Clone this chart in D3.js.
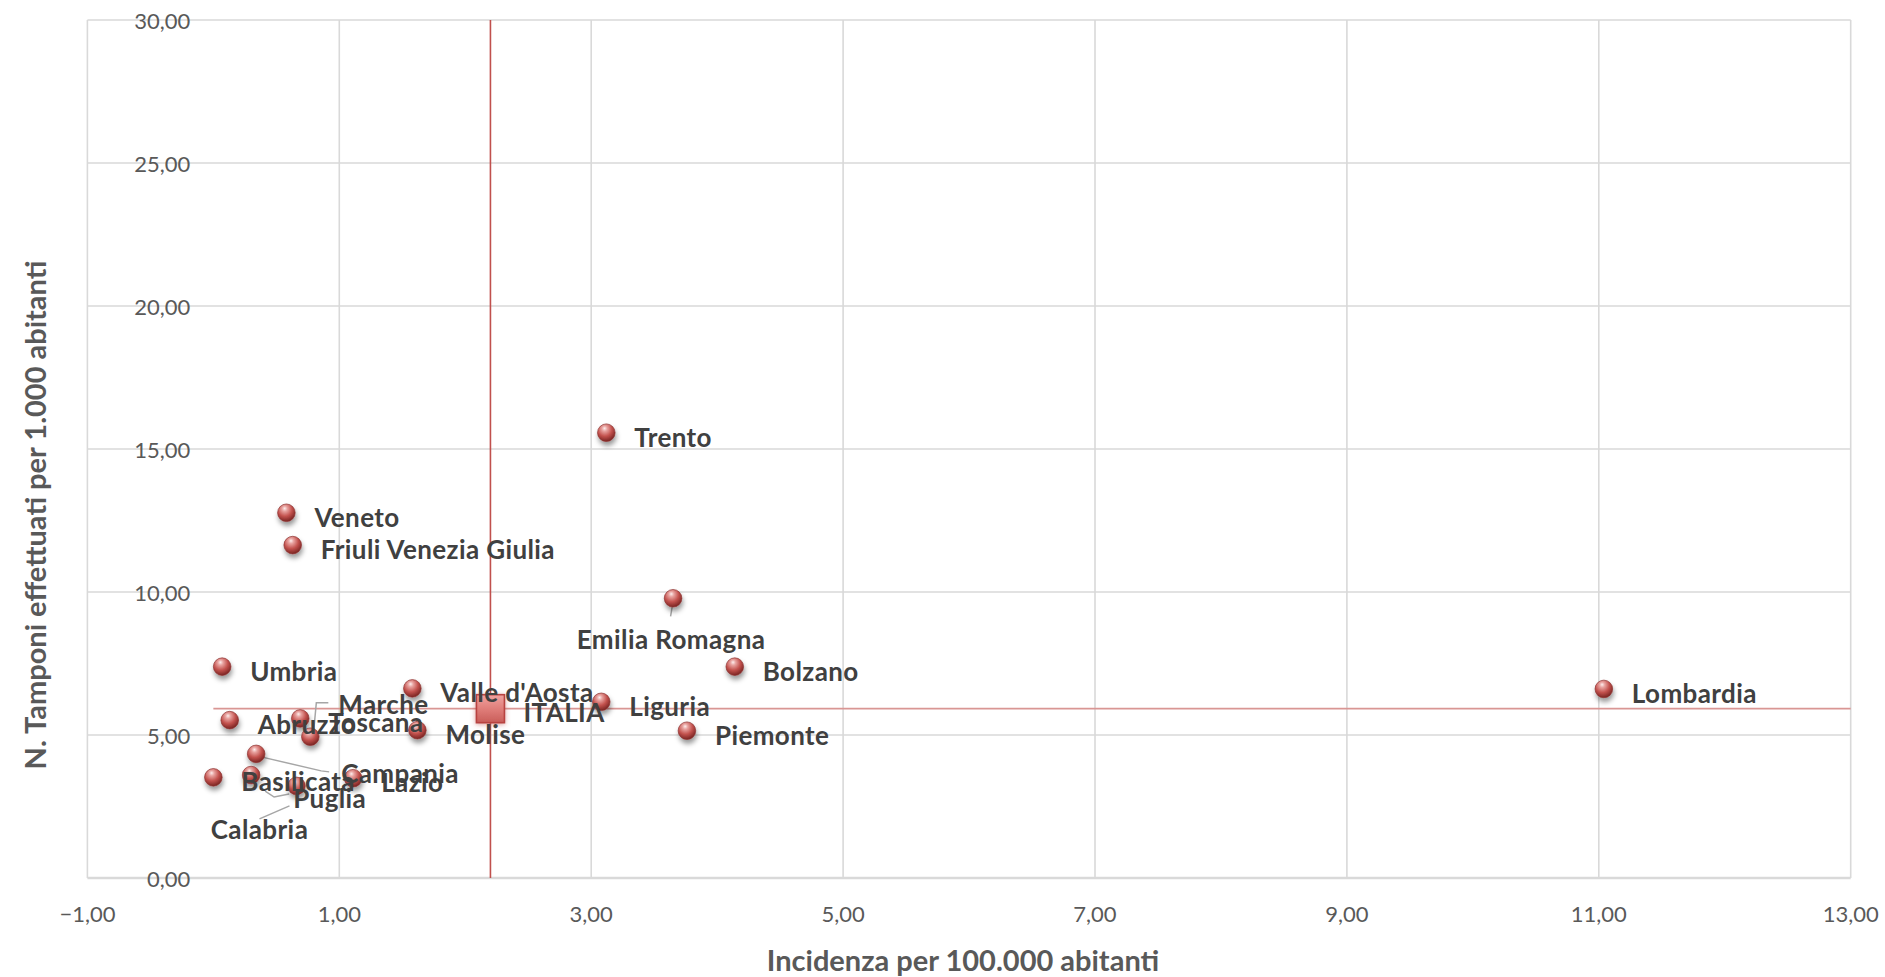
<!DOCTYPE html>
<html>
<head>
<meta charset="utf-8">
<script src="https://cdn.jsdelivr.net/npm/d3@7"></script>
<style>
  html, body { margin: 0; padding: 0; background: #ffffff; }
  svg { display: block; }
</style>
</head>
<body>
<svg id="chart" width="1885" height="977"></svg>
<script>
// Regioni: incidenza per 100.000 abitanti (x) e tamponi per 1.000 abitanti (y)
const regions = ["Trento", "Veneto", "Friuli Venezia Giulia", "Emilia Romagna", "Bolzano",
  "Umbria", "Lombardia", "Valle d'Aosta", "Liguria", "Piemonte", "Molise", "Abruzzo",
  "Toscana", "Marche", "Campania", "Basilicata", "Puglia", "Calabria", "Lazio"];
const incidenza = [3.12, 0.58, 0.63, 3.65, 4.14,
  0.07, 11.04, 1.58, 3.08, 3.76, 1.62, 0.13,
  0.69, 0.77, 0.34, 0.00, 0.30, 0.66, 1.11];
const tamponi = [15.57, 12.77, 11.64, 9.78, 7.39,
  7.39, 6.61, 6.63, 6.16, 5.15, 5.17, 5.52,
  5.58, 4.94, 4.34, 3.52, 3.60, 3.22, 3.49];

// Media nazionale
const italiaLabel = "ITALIA";
const italiaIncidenza = 2.2;
const italiaTamponi = 5.92;

// Assi
const xTicks = [-1, 1, 3, 5, 7, 9, 11, 13];
const yTicks = [0, 5, 10, 15, 20, 25, 30];
const xTitle = "Incidenza per 100.000 abitanti";
const yTitle = "N. Tamponi effettuati per 1.000 abitanti";

// Etichette spostate manualmente (offset in px rispetto al punto) e linee guida
const labelDefault = { dx: 28, dy: 4, anchor: "start" };
const labelMoved = {
  "Emilia Romagna": { dx: -2, dy: 41, anchor: "middle", leader: [[0, 3], [-2.5, 18]] },
  "Marche": { dx: 28, dy: -33, anchor: "start", leader: [[3, -2], [6, -34], [18, -34]] },
  "Campania": { dx: 85, dy: 19, anchor: "start", leader: [[5, 3], [65, 17], [73, 18]] },
  "Puglia": { dx: 42, dy: 23, anchor: "start", leader: [[14, 16], [23, 22], [38, 19]] },
  "Calabria": { dx: -37, dy: 43, anchor: "middle", leader: [[-37, 33], [-7, 20]] }
};

const W = 1885, H = 977;
const svg = d3.select("#chart");
const locale = d3.formatLocale({ decimal: ",", thousands: ".", grouping: [3], currency: ["€", ""] });
const fmt = locale.format(".2f");

const x = d3.scaleLinear().domain([-1, 13]).range([87.4, 1850.7]);
const y = d3.scaleLinear().domain([0, 30]).range([878, 20]);

const defs = svg.append("defs");
const sphere = defs.append("radialGradient").attr("id", "sphere")
  .attr("cx", "42%").attr("cy", "32%").attr("r", "68%").attr("fx", "40%").attr("fy", "25%");
sphere.append("stop").attr("offset", "0%").attr("stop-color", "#fdeeed");
sphere.append("stop").attr("offset", "22%").attr("stop-color", "#e8a3a0");
sphere.append("stop").attr("offset", "60%").attr("stop-color", "#c3524e");
sphere.append("stop").attr("offset", "100%").attr("stop-color", "#7a2422");

const sq = defs.append("linearGradient").attr("id", "square")
  .attr("x1", "0").attr("y1", "0").attr("x2", "0").attr("y2", "1");
sq.append("stop").attr("offset", "0%").attr("stop-color", "#f0a3a0");
sq.append("stop").attr("offset", "50%").attr("stop-color", "#e07e7a");
sq.append("stop").attr("offset", "100%").attr("stop-color", "#c95d59");

const shadow = defs.append("filter").attr("id", "shadow")
  .attr("x", "-60%").attr("y", "-60%").attr("width", "220%").attr("height", "240%");
shadow.append("feDropShadow").attr("dx", 1).attr("dy", 4).attr("stdDeviation", 2.6)
  .attr("flood-color", "#000").attr("flood-opacity", 0.4);

const glow = defs.append("filter").attr("id", "glow")
  .attr("x", "-50%").attr("y", "-50%").attr("width", "200%").attr("height", "200%");
glow.append("feDropShadow").attr("dx", 0).attr("dy", 1).attr("stdDeviation", 2.5)
  .attr("flood-color", "#c0504d").attr("flood-opacity", 0.55);

// Griglia
const grid = svg.append("g");
grid.selectAll("line.v").data(xTicks).join("line")
  .attr("x1", d => x(d)).attr("x2", d => x(d))
  .attr("y1", y(30)).attr("y2", y(0))
  .attr("stroke", "#d9d9d9").attr("stroke-width", 1.6);
grid.selectAll("line.h").data(yTicks).join("line")
  .attr("x1", x(-1)).attr("x2", x(13))
  .attr("y1", d => y(d)).attr("y2", d => y(d))
  .attr("stroke", "#d9d9d9").attr("stroke-width", d => d === 0 ? 2.6 : 1.6);

// Etichette assi (l'asse verticale interseca x = 0)
const tickFont = "Lato, 'Open Sans', sans-serif";
svg.append("g").selectAll("text").data(yTicks).join("text")
  .attr("x", x(0) - 23).attr("y", d => y(d))
  .attr("text-anchor", "end").attr("dominant-baseline", "central")
  .attr("font-family", tickFont).attr("font-size", 22).attr("fill", "#595959")
  .text(d => fmt(d));
svg.append("g").selectAll("text").data(xTicks).join("text")
  .attr("x", d => x(d)).attr("y", 913)
  .attr("text-anchor", "middle").attr("dominant-baseline", "central")
  .attr("font-family", tickFont).attr("font-size", 22).attr("fill", "#595959")
  .text(d => fmt(d));

svg.append("text")
  .attr("x", 963).attr("y", 959)
  .attr("text-anchor", "middle").attr("dominant-baseline", "central")
  .attr("font-family", tickFont).attr("font-weight", 700).attr("font-size", 29)
  .attr("fill", "#595959").text(xTitle);
svg.append("text")
  .attr("transform", "translate(34,515) rotate(-90)")
  .attr("text-anchor", "middle").attr("dominant-baseline", "central")
  .attr("font-family", tickFont).attr("font-weight", 700).attr("font-size", 29)
  .attr("fill", "#595959").text(yTitle);

// Linee della media nazionale
svg.append("line")
  .attr("x1", x(0)).attr("x2", x(13))
  .attr("y1", y(italiaTamponi)).attr("y2", y(italiaTamponi))
  .attr("stroke", "#d99694").attr("stroke-width", 1.8);
svg.append("line")
  .attr("x1", x(italiaIncidenza)).attr("x2", x(italiaIncidenza))
  .attr("y1", y(0)).attr("y2", y(30))
  .attr("stroke", "#c0504d").attr("stroke-width", 1.6);

const pts = regions.map((name, i) => ({ name, xv: incidenza[i], yv: tamponi[i] }));

// Linee guida delle etichette spostate
svg.append("g").selectAll("polyline")
  .data(pts.filter(d => labelMoved[d.name] && labelMoved[d.name].leader))
  .join("polyline")
  .attr("points", d => labelMoved[d.name].leader
    .map(p => [x(d.xv) + p[0], y(d.yv) + p[1]].join(",")).join(" "))
  .attr("fill", "none").attr("stroke", "#a6a6a6").attr("stroke-width", 1.5);

// Marcatori regionali
svg.append("g").selectAll("circle").data(pts).join("circle")
  .attr("cx", d => x(d.xv)).attr("cy", d => y(d.yv)).attr("r", 8.8)
  .attr("fill", "url(#sphere)").attr("stroke", "#8e3432").attr("stroke-width", 0.7)
  .attr("filter", "url(#shadow)");

// Marcatore ITALIA
svg.append("rect")
  .attr("x", x(italiaIncidenza) - 14).attr("y", y(italiaTamponi) - 14)
  .attr("width", 28).attr("height", 28)
  .attr("fill", "url(#square)").attr("stroke", "#b8433f").attr("stroke-width", 1.6)
  .attr("filter", "url(#glow)");

// Etichette dei punti
const labelFont = "Lato, 'Open Sans', sans-serif";
const labels = svg.append("g")
  .attr("font-family", labelFont).attr("font-weight", 700).attr("font-size", 26)
  .attr("letter-spacing", 0.4).attr("fill", "#404040");
labels.selectAll("text").data(pts).join("text")
  .attr("x", d => x(d.xv) + (labelMoved[d.name] || labelDefault).dx)
  .attr("y", d => y(d.yv) + (labelMoved[d.name] || labelDefault).dy)
  .attr("text-anchor", d => (labelMoved[d.name] || labelDefault).anchor)
  .attr("dominant-baseline", "central")
  .text(d => d.name);
labels.append("text")
  .attr("x", x(italiaIncidenza) + 33).attr("y", y(italiaTamponi) + 3)
  .attr("dominant-baseline", "central")
  .text(italiaLabel);
</script>
</body>
</html>
